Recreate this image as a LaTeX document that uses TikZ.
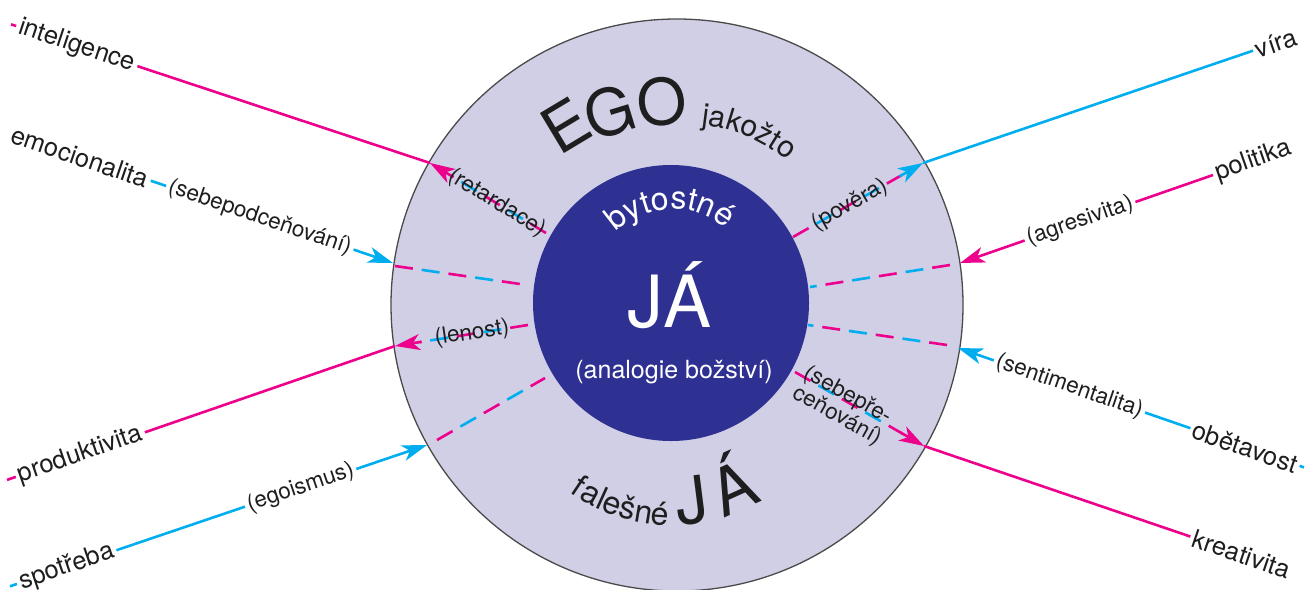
\documentclass[tikz,border=0pt]{standalone}
\usepackage{fontspec}
\setmainfont{TeX Gyre Heros}
\usetikzlibrary{arrows.meta,calc}
\definecolor{ringfill}{HTML}{D0CFE6}
\definecolor{ringline}{HTML}{4A4A4A}
\definecolor{corefill}{HTML}{2E3192}
\definecolor{pinkc}{HTML}{EC008C}
\definecolor{cyanc}{HTML}{00AEEF}
\definecolor{inkc}{HTML}{1E1E1E}
\begin{document}
\begin{tikzpicture}[x=1pt,y=1pt,
  lbl/.style={font=\fontsize{22.5}{23}\selectfont, text=inkc, inner sep=3pt},
  outlbl/.style={lbl, fill=white},
  endlbl/.style={outlbl, font=\fontsize{25.5}{26}\selectfont},
  pinkline/.style={draw=pinkc, line width=2.6pt},
  cyanline/.style={draw=cyanc, line width=2.6pt},
  headtip/.style={-{Stealth[length=25pt,width=16pt,inset=7pt]}},
  pinkdash/.style={draw=pinkc, line width=2.6pt, dash pattern=on 18pt off 36pt},
  cyandash/.style={draw=cyanc, line width=2.6pt, dash pattern=on 18pt off 36pt, dash phase=27pt},
  letter/.style={anchor=base, inner sep=0pt},
]
\useasboundingbox (0,0) rectangle (1305,-589);
% circles
\node[circle, draw=ringline, line width=1.3pt, fill=ringfill, minimum size=572pt, inner sep=0pt] (ring) at (677,-305) {};
\node[circle, fill=corefill, minimum size=276pt, inner sep=0pt] (core) at (671,-303) {};

% ---------- coordinates
\coordinate (Af) at (11,-24.3);    \coordinate (Ac) at (430,-163);   \coordinate (Ai) at (546,-233);
\coordinate (Bf) at (20,-136.3);   \coordinate (Bc) at (393,-263);
\coordinate (Bi1) at (395,-266);   \coordinate (Bi2) at (527,-285);
\coordinate (Cf) at (7,-479.9);    \coordinate (Cc) at (395,-346);   \coordinate (Ci) at (528,-325);
\coordinate (Df) at (10,-586.3);   \coordinate (Dc) at (427,-445);
\coordinate (Di1) at (437,-440);   \coordinate (Di2) at (545,-378);
\coordinate (Ef) at (1290,-38.1);  \coordinate (Ec) at (923,-163);   \coordinate (Ei) at (793,-237);
\coordinate (Ff) at (1280,-151.7); \coordinate (Fc) at (960,-263);
\coordinate (Fi1) at (950,-265);   \coordinate (Fi2) at (810,-287);
\coordinate (Gf) at (1304,-467.4); \coordinate (Gc) at (958,-348);
\coordinate (Gi1) at (947,-345);   \coordinate (Gi2) at (808,-325);
\coordinate (Hf) at (1285,-568.7); \coordinate (Hc) at (924,-446);   \coordinate (Hi) at (795,-372);

\coordinate (Ab) at ($(Ac)!25pt!(Ai)$);
\coordinate (Cb) at ($(Cc)!25pt!(Ci)$);
\coordinate (Eb) at ($(Ec)!25pt!(Ei)$);
\coordinate (Hb) at ($(Hc)!25pt!(Hi)$);

% ---------- inner dashed spokes
\foreach \p/\q in {Ai/Ab, Bi1/Bi2, Ci/Cb, Di1/Di2, Ei/Eb, Fi1/Fi2, Gi1/Gi2, Hi/Hb}{
  \draw[pinkdash] (\p) -- (\q);
  \draw[cyandash] (\p) -- (\q);
}
% outward arrow heads
\draw[pinkline, headtip] ($(Ac)!27pt!(Ai)$) -- (Ac);
\draw[pinkline, headtip] ($(Cc)!27pt!(Ci)$) -- (Cc);
\draw[cyanline, headtip] ($(Ec)!27pt!(Ei)$) -- (Ec);
\draw[pinkline, headtip] ($(Hc)!27pt!(Hi)$) -- (Hc);

% inner labels
\node[lbl, rotate=-31.5] (retard) at (497,-203) {(retardace)};
\node[lbl, rotate=8.6] (lenost) at (472,-333.5) {(lenost)};
\node[lbl, rotate=29.5] (povera) at (850,-205) {(pověra)};
\node[lbl, rotate=-29, align=left] (sebepre) at (843,-406) {(sebepře-\\ceňování)};

% ---------- outer spokes
\draw[pinkline] (Af) -- node[endlbl, sloped, pos=0.157] (intel) {inteligence} (Ac);
\draw[cyanline, headtip] (Bf) -- node[endlbl, sloped, pos=0.161] (emoc) {emocionalita}
   node[outlbl, sloped, pos=0.643] (sebepod) {(sebepodceňování)} (Bc);
\draw[pinkline] (Cf) -- node[endlbl, sloped, pos=0.189] (produk) {produktivita} (Cc);
\draw[cyanline, headtip] (Df) -- node[endlbl, sloped, pos=0.136] (spotr) {spotřeba}
   node[outlbl, sloped, pos=0.697] (egois) {(egoismus)} (Dc);
\draw[cyanline] (Ec) -- node[endlbl, sloped, pos=0.962] (vira) {víra} (Ef);
\draw[pinkline, headtip] (Ff) -- node[endlbl, sloped, pos=0.083] (polit) {politika}
   node[outlbl, sloped, pos=0.625] (agres) {(agresivita)} (Fc);
\draw[cyanline, headtip] (Gf) -- node[endlbl, sloped, pos=0.1705] (obet) {obětavost}
   node[outlbl, sloped, pos=0.678] (senti) {(sentimentalita)} (Gc);
\draw[pinkline] (Hc) -- node[endlbl, sloped, pos=0.8795] (kreat) {kreativita} (Hf);

% ---------- curved titles, letter by letter
\foreach \ch/\x/\y/\r [count=\i] in {E/578/146/31, G/616/134/17, O/664/125/6}
  \node[letter, font=\fontsize{64}{64}\selectfont, text=inkc, rotate=\r] (ego\i) at (\x,-\y) {\ch};
\foreach \ch/\x/\y/\r [count=\i] in {j/704.4/124.9/-7.5, a/715.9/126.8/-11.6, k/731.2/130.7/-17.1,
    o/746.2/136.1/-22.6, ž/760.4/142.9/-28.2, t/770.5/148.8/-32.3, o/780.8/155.9/-36.6}
  \node[letter, font=\fontsize{30}{30}\selectfont, text=inkc, rotate=\r] (jak\i) at (\x,-\y) {\ch};
\foreach \ch/\x/\y/\r [count=\i] in {b/622.5/226.4/38.0, y/636.7/217.5/26.2, t/648.3/212.8/17.5,
    o/661.3/209.8/8.2, s/678.1/209.2/-3.6, t/690.4/210.9/-12.3, n/703.2/214.8/-21.6, é/718.9/223.0/-34.0}
  \node[letter, font=\fontsize{32}{32}\selectfont, text=white, rotate=\r] (byt\i) at (\x,-\y) {\ch};
\foreach \ch/\x/\y/\r [count=\i] in {f/573.1/495.3/-33.8, a/585.9/503.1/-28.9, l/598.0/509.2/-24.5,
    e/609.1/513.8/-20.6, š/625.0/518.9/-15.2, n/642.0/522.6/-9.5, é/659.0/524.6/-3.9}
  \node[letter, font=\fontsize{32}{32}\selectfont, text=inkc, rotate=\r] (fal\i) at (\x,-\y) {\ch};
\foreach \ch/\x/\y/\r [count=\i] in {J/695.0/523.6/7.2, Á/743.0/509.6/24.2}
  \node[letter, font=\fontsize{65}{65}\selectfont, text=inkc, rotate=\r] (fja\i) at (\x,-\y) {\ch};

% ---------- centre texts
\node[font=\fontsize{72}{72}\selectfont, text=white, anchor=base, inner sep=0pt] (ja) at (670,-327) {JÁ};
\node[font=\fontsize{25}{25}\selectfont, text=white, anchor=base, inner sep=0pt] (analog) at (674,-378) {(analogie božství)};
\end{tikzpicture}
\end{document}
